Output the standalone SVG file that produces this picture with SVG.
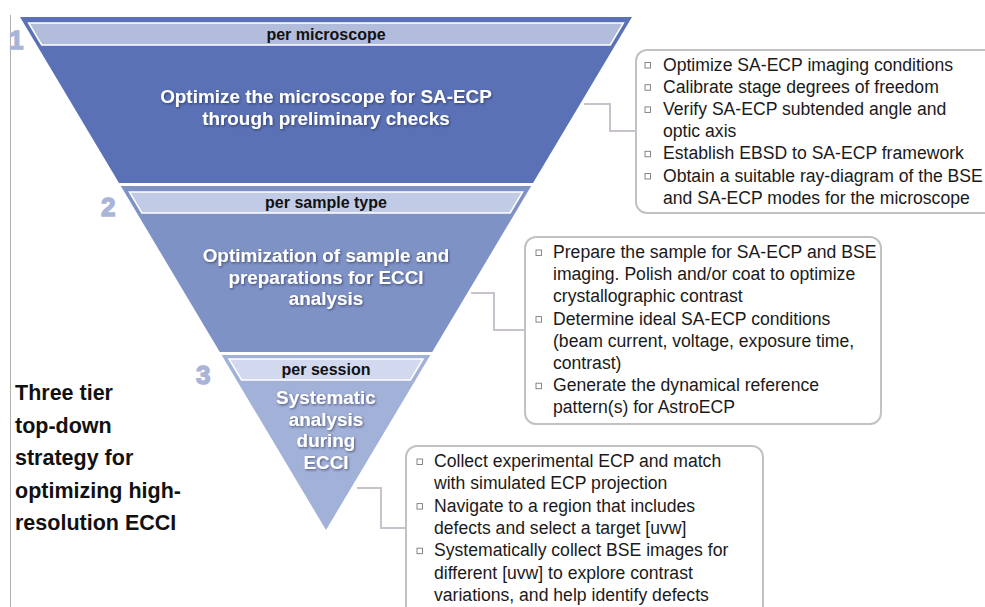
<svg xmlns="http://www.w3.org/2000/svg" width="985" height="607" viewBox="0 0 985 607">
<defs>
<filter id="sh" x="-10%" y="-30%" width="120%" height="160%">
<feDropShadow dx="1" dy="1.2" stdDeviation="0.9" flood-color="#1a2340" flood-opacity="0.6"/>
</filter>
<style>
.tier1{fill:#5a72b5}
.tier2{fill:#7e92c6}
.tier3{fill:#a2b1d8}
.band{stroke:#ffffff;stroke-width:1.5}
.band1{fill:#b2bddc}
.band2{fill:#c2cbe5}
.band3{fill:#d2d9ee}
.bandtxt{font-family:"Liberation Sans",Arial,sans-serif;font-weight:bold;font-size:16px;fill:#111;text-anchor:middle}
.title{font-family:"Liberation Sans",Arial,sans-serif;font-weight:bold;font-size:18.9px;fill:#ffffff;text-anchor:middle}
.num{font-family:"Liberation Sans",Arial,sans-serif;font-weight:bold;font-size:26px;fill:#a8b5d8;stroke:#a8b5d8;stroke-width:1.4}
.box{fill:#ffffff;stroke:#c2c2c2;stroke-width:2}
.btxt{font-family:"Liberation Sans",Arial,sans-serif;font-size:17.6px;fill:#1a1a1a}
.bul{fill:none;stroke:#7a7a7a;stroke-width:0.9}
.conn{fill:none;stroke:#c9c1cb;stroke-width:2}
.side{font-family:"Liberation Sans",Arial,sans-serif;font-weight:bold;font-size:21.5px;fill:#111}
</style>
</defs>
<line x1="10.5" y1="15" x2="10.5" y2="607" stroke="#b0b0b0" stroke-width="1"/>

<g id="connectors">
<polyline class="conn" points="584,104 610,104 610,131 636,131"/>
<polyline class="conn" points="471,293 494,293 494,330 525,330"/>
<polyline class="conn" points="357,488 381,488 381,528 406,528"/>
</g>

<g id="tier1">
<polygon class="tier1" points="20,17 632,17 533,183 119,183"/>
<polygon class="band band1" points="28.6,23 623.4,23 610.3,45 41.7,45"/>
<text class="bandtxt" x="326" y="40">per microscope</text>
<text class="title" filter="url(#sh)" x="326" y="103">Optimize the microscope for SA-ECP</text>
<text class="title" filter="url(#sh)" x="326" y="124.5">through preliminary checks</text>
<text class="num" x="9" y="49">1</text>
</g>

<g id="tier2">
<polygon class="tier2" points="120.8,186 531.2,186 432.2,352 219.8,352"/>
<polygon class="band band2" points="129.4,192 522.6,192 510.1,213 141.9,213"/>
<text class="bandtxt" x="326" y="208">per sample type</text>
<text class="title" filter="url(#sh)" x="326" y="262">Optimization of sample and</text>
<text class="title" filter="url(#sh)" x="326" y="283.5">preparations for ECCI</text>
<text class="title" filter="url(#sh)" x="326" y="305">analysis</text>
<text class="num" x="101" y="216">2</text>
</g>

<g id="tier3">
<polygon class="tier3" points="221.6,355 430.4,355 326,530"/>
<polygon class="band band3" points="229,359 423,359 410.5,380 241.5,380"/>
<text class="bandtxt" x="326" y="375">per session</text>
<text class="title" filter="url(#sh)" x="326" y="404">Systematic</text>
<text class="title" filter="url(#sh)" x="326" y="425.5">analysis</text>
<text class="title" filter="url(#sh)" x="326" y="447">during</text>
<text class="title" filter="url(#sh)" x="326" y="468.5">ECCI</text>
<text class="num" x="196" y="384">3</text>
</g>

<g id="box1">
<rect class="box" x="636" y="50" width="370" height="163" rx="11"/>
<rect class="bul" x="645" y="62.5" width="5.5" height="5.5"/>
<rect class="bul" x="645" y="84.7" width="5.5" height="5.5"/>
<rect class="bul" x="645" y="106.9" width="5.5" height="5.5"/>
<rect class="bul" x="645" y="151.3" width="5.5" height="5.5"/>
<rect class="bul" x="645" y="173.5" width="5.5" height="5.5"/>
<text class="btxt">
<tspan x="663" y="70.5">Optimize SA-ECP imaging conditions</tspan>
<tspan x="663" y="92.7">Calibrate stage degrees of freedom</tspan>
<tspan x="663" y="114.9">Verify SA-ECP subtended angle and</tspan>
<tspan x="663" y="137.1">optic axis</tspan>
<tspan x="663" y="159.3">Establish EBSD to SA-ECP framework</tspan>
<tspan x="663" y="181.5">Obtain a suitable ray-diagram of the BSE</tspan>
<tspan x="663" y="203.7">and SA-ECP modes for the microscope</tspan>
</text>
</g>

<g id="box2">
<rect class="box" x="525" y="237" width="356" height="187" rx="11"/>
<rect class="bul" x="536" y="250" width="5.5" height="5.5"/>
<rect class="bul" x="536" y="316.6" width="5.5" height="5.5"/>
<rect class="bul" x="536" y="383.2" width="5.5" height="5.5"/>
<text class="btxt">
<tspan x="553" y="258">Prepare the sample for SA-ECP and BSE</tspan>
<tspan x="553" y="280.2">imaging. Polish and/or coat to optimize</tspan>
<tspan x="553" y="302.4">crystallographic contrast</tspan>
<tspan x="553" y="324.6">Determine ideal SA-ECP conditions</tspan>
<tspan x="553" y="346.8">(beam current, voltage, exposure time,</tspan>
<tspan x="553" y="369">contrast)</tspan>
<tspan x="553" y="391.2">Generate the dynamical reference</tspan>
<tspan x="553" y="413.4">pattern(s) for AstroECP</tspan>
</text>
</g>

<g id="box3">
<rect class="box" x="406" y="446" width="357" height="175" rx="11"/>
<rect class="bul" x="417" y="459" width="5.5" height="5.5"/>
<rect class="bul" x="417" y="503.6" width="5.5" height="5.5"/>
<rect class="bul" x="417" y="548.2" width="5.5" height="5.5"/>
<text class="btxt">
<tspan x="434" y="467">Collect experimental ECP and match</tspan>
<tspan x="434" y="489.3">with simulated ECP projection</tspan>
<tspan x="434" y="511.6">Navigate to a region that includes</tspan>
<tspan x="434" y="533.9">defects and select a target [uvw]</tspan>
<tspan x="434" y="556.2">Systematically collect BSE images for</tspan>
<tspan x="434" y="578.5">different [uvw] to explore contrast</tspan>
<tspan x="434" y="600.8">variations, and help identify defects</tspan>
</text>
</g>

<g id="caption">
<text class="side">
<tspan x="15" y="400">Three tier</tspan>
<tspan x="15" y="432.5">top-down</tspan>
<tspan x="15" y="465">strategy for</tspan>
<tspan x="15" y="497.5">optimizing high-</tspan>
<tspan x="15" y="530">resolution ECCI</tspan>
</text>
</g>
</svg>
